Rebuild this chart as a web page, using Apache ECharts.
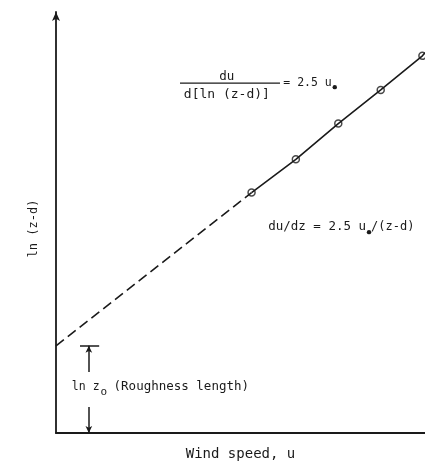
<!DOCTYPE html>
<html>
<head>
<meta charset="utf-8">
<script src="https://cdn.jsdelivr.net/npm/echarts@6/dist/echarts.min.js"></script>
<style>
  html, body { margin: 0; padding: 0; background: #fff; }
  #chart { width: 425px; height: 462px; }
</style>
</head>
<body>
<div id="chart"></div>
<script>
// Measured profile: wind speed u against ln(z - d)
const windSpeed = [5.3, 6.5, 7.65, 8.8, 9.93];
const lnHeight  = [5.71, 6.5, 7.35, 8.15, 8.96];
// Straight-line fit through the points and its extrapolation to u = 0
const lnZ0 = 2.07;
const fitEnd = [10, 9.03];

const INK = '#1a1a1a';
const FONT = '"DejaVu Sans Mono", monospace';

const points = windSpeed.map((u, i) => [u, lnHeight[i]]);
const solidFit = points.concat([fitEnd]);
const dashedFit = [[0, lnZ0], points[0]];

// Roughness-length marker: T bar at ln z0 and arrows bracketing the label
const markerU = 0.89;
const barU = [0.65, 1.17];
const upperArrowFrom = 1.45;
const lowerArrowFrom = 0.62;

const chart = echarts.init(document.getElementById('chart'), null, { renderer: 'canvas' });

chart.setOption({
  backgroundColor: '#fff',
  animation: false,
  grid: { left: 56, right: 0, top: 12, bottom: 29, containLabel: false, outerBoundsMode: 'none' },
  xAxis: {
    type: 'value', min: 0, max: 10,
    name: 'Wind speed, u', nameLocation: 'middle', nameGap: 14,
    nameTextStyle: { color: INK, fontSize: 14, fontFamily: FONT },
    axisLine: { lineStyle: { color: INK, width: 1.8 } },
    axisTick: { show: false }, axisLabel: { show: false }, splitLine: { show: false }
  },
  yAxis: {
    type: 'value', min: 0, max: 10,
    name: 'ln (z-d)', nameLocation: 'middle', nameGap: 16,
    nameTextStyle: { color: INK, fontSize: 12, fontFamily: FONT, padding: [0, 0, 0, -12] },
    axisLine: {
      lineStyle: { color: INK, width: 1.8 },
      symbol: ['none', 'arrow'], symbolSize: [6, 9]
    },
    axisTick: { show: false }, axisLabel: { show: false }, splitLine: { show: false }
  },
  series: [
    {
      type: 'line', data: dashedFit, showSymbol: false, silent: true,
      lineStyle: { color: INK, width: 1.6, type: [10, 5] },
      markLine: {
        silent: true, animation: false,
        symbol: ['none', 'arrow'], symbolSize: [5, 7],
        lineStyle: { color: INK, width: 1.5, type: 'solid' },
        label: { show: false },
        data: [
          [{ coord: [barU[0], lnZ0], symbol: 'none' }, { coord: [barU[1], lnZ0], symbol: 'none' }],
          [{ coord: [markerU, upperArrowFrom] }, { coord: [markerU, lnZ0] }],
          [{ coord: [markerU, lowerArrowFrom] }, { coord: [markerU, 0] }]
        ]
      }
    },
    {
      type: 'line', data: solidFit, showSymbol: false, silent: true,
      lineStyle: { color: INK, width: 1.6 }
    },
    {
      type: 'scatter', data: points, symbol: 'circle', symbolSize: 7, silent: true,
      itemStyle: { color: '#fff', borderColor: INK, borderWidth: 1.5 }
    }
  ]
});

// Equation annotations, anchored in data coordinates
const measureCtx = document.createElement('canvas').getContext('2d');
function width(text, size) {
  measureCtx.font = size + 'px ' + FONT;
  return measureCtx.measureText(text).width;
}
function px(u, v) { return chart.convertToPixel({ gridIndex: 0 }, [u, v]); }
function txt(p, text, size, align) {
  return {
    type: 'text', x: p[0], y: p[1], silent: true,
    style: { text, fill: INK, fontSize: size, fontFamily: FONT, align: align || 'left', verticalAlign: 'middle' }
  };
}
function dot(p, r) {
  return { type: 'circle', silent: true, shape: { cx: p[0], cy: p[1], r }, style: { fill: INK } };
}

const num = px(4.63, 8.46);
const den = px(4.63, 8.03);
const barL = px(3.36, 8.31), barR = px(6.07, 8.31);
const eq1 = px(6.16, 8.31);
const eq2 = px(5.75, 4.89);
const rough = px(0.43, 1.09);

const eq1Text = '= 2.5 u', eq1Size = 11.5;
const eq2Text = 'du/dz = 2.5 u', eq2Size = 12.5;
const eq1W = width(eq1Text, eq1Size);
const eq2W = width(eq2Text, eq2Size);
const lnzW = width('ln z', 11.5);

const gfx = [
  txt(num, 'du', 12.5, 'center'),
  txt(den, 'd[ln (z-d)]', 13, 'center'),
  { type: 'line', silent: true, shape: { x1: barL[0], y1: barL[1], x2: barR[0], y2: barR[1] },
    style: { stroke: INK, lineWidth: 1.2 } },
  txt(eq1, eq1Text, eq1Size),
  dot([eq1[0] + eq1W + 3, eq1[1] + 4], 2.2),
  txt(eq2, eq2Text, eq2Size),
  dot([eq2[0] + eq2W + 3, eq2[1] + 5], 2.2),
  txt([eq2[0] + eq2W + 5, eq2[1]], '/(z-d)', 12),
  txt(rough, 'ln z', 11.5),
  txt([rough[0] + lnzW + 1, rough[1] + 5], 'o', 11),
  txt([rough[0] + lnzW + 14, rough[1]], '(Roughness length)', 12.5)
];
chart.setOption({ graphic: gfx });
</script>
</body>
</html>
